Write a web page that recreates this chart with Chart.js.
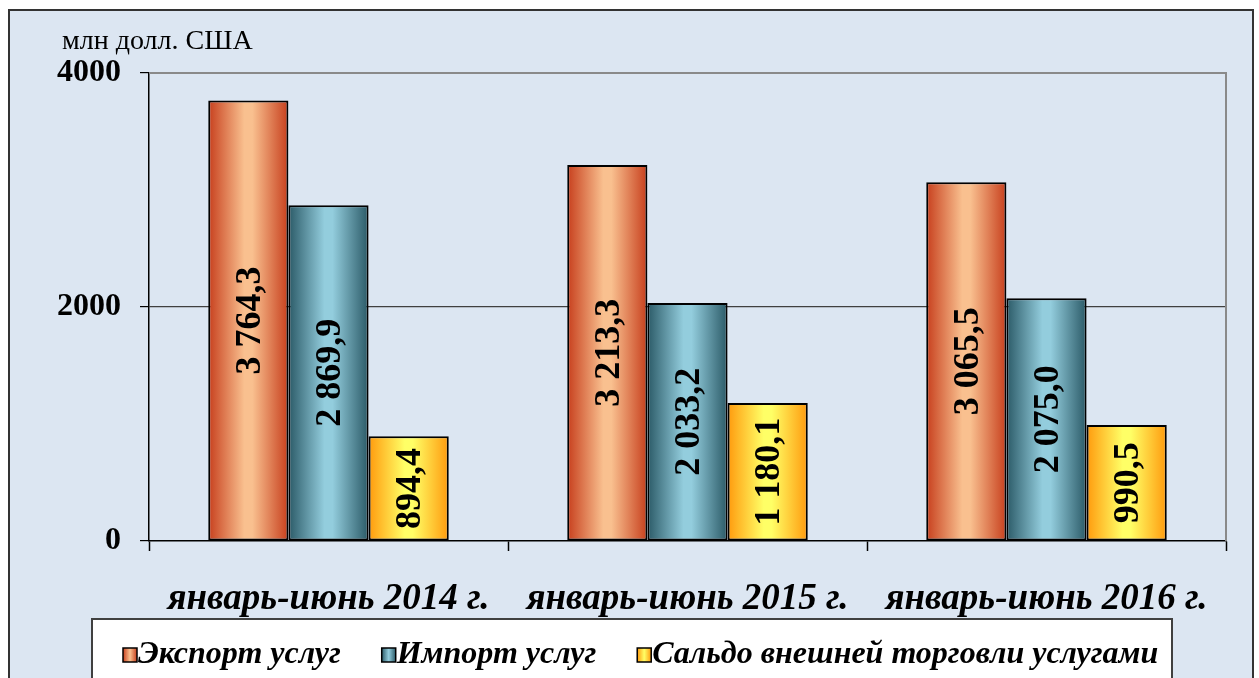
<!DOCTYPE html>
<html>
<head>
<meta charset="utf-8">
<script src="https://cdn.jsdelivr.net/npm/chart.js@4"></script>
<style>
  html, body { margin: 0; padding: 0; background: #ffffff; }
  #wrap { width: 1259px; height: 678px; position: relative; }
</style>
</head>
<body>
<div id="wrap"><canvas id="chart"></canvas></div>
<script>
// Data
var periods = ['январь-июнь 2014 г.', 'январь-июнь 2015 г.', 'январь-июнь 2016 г.'];
var exportVals = [3764.3, 3213.3, 3065.5];
var importVals = [2869.9, 2033.2, 2075.0];
var saldoVals = [894.4, 1180.1, 990.5];
var seriesNames = ['Экспорт услуг', 'Импорт услуг', 'Сальдо внешней торговли услугами'];
var yTicks = [0, 2000, 4000];
var unitLabel = 'млн долл. США';

var serif = '"Liberation Serif", "Times New Roman", serif';

// edge / centre colours of the bar gradients
var barColors = [
    { edge: '#c73f1d', mid: '#f9c08f' },
    { edge: '#2b5a67', mid: '#93cddd' },
    { edge: '#ff9a0d', mid: '#ffff66' }
];

function fmt(v) {
    var s = v.toFixed(1).split('.');
    var intPart = s[0].replace(/\B(?=(\d{3})+(?!\d))/g, ' ');
    return intPart + ',' + s[1];
}

function makeGradient(ctx, left, width, c) {
    var g = ctx.createLinearGradient(left, 0, left + width, 0);
    g.addColorStop(0, c.edge);
    g.addColorStop(0.45, c.mid);
    g.addColorStop(0.55, c.mid);
    g.addColorStop(1, c.edge);
    return g;
}

// Background frame, plot border, unit label, legend box, bar gradients
var framePlugin = {
    id: 'frame',
    beforeDraw: function(chart) {
        var ctx = chart.ctx;
        ctx.save();
        ctx.fillStyle = '#ffffff';
        ctx.fillRect(0, 0, chart.width, chart.height);
        ctx.fillStyle = '#dce6f2';
        ctx.fillRect(9, 10, 1244, 700);
        ctx.strokeStyle = '#333333';
        ctx.lineWidth = 2;
        ctx.strokeRect(9, 10, 1244, 700);
        ctx.restore();
    },
    beforeDatasetsDraw: function(chart) {
        var a = chart.chartArea;
        var ctx = chart.ctx;
        ctx.save();
        ctx.strokeStyle = '#8a8a8a';
        ctx.lineWidth = 2;
        ctx.beginPath();
        ctx.moveTo(a.left, a.top);
        ctx.lineTo(a.right, a.top);
        ctx.lineTo(a.right, a.bottom);
        ctx.stroke();
        ctx.restore();

        chart.data.datasets.forEach(function(ds, di) {
            chart.getDatasetMeta(di).data.forEach(function(el) {
                var left = el.x - el.width / 2;
                if (!isFinite(left) || !isFinite(el.width)) return;
                el.options = Object.assign({}, el.options, {
                    backgroundColor: makeGradient(ctx, left, el.width, barColors[di])
                });
            });
        });
    },
    afterDraw: function(chart) {
        var ctx = chart.ctx;
        ctx.save();
        ctx.fillStyle = '#000000';
        ctx.font = '28px ' + serif;
        ctx.textBaseline = 'middle';
        ctx.textAlign = 'left';
        ctx.fillText(unitLabel, 62, 42);

        // legend
        ctx.fillStyle = '#ffffff';
        ctx.fillRect(92, 619, 1080, 80);
        ctx.strokeStyle = '#404040';
        ctx.lineWidth = 2;
        ctx.strokeRect(92, 619, 1080, 80);
        ctx.font = 'italic bold 32px ' + serif;
        ctx.textBaseline = 'middle';
        var x = 123;
        for (var i = 0; i < seriesNames.length; i++) {
            var c = barColors[i];
            var g = ctx.createLinearGradient(x, 0, x + 14, 0);
            g.addColorStop(0, c.edge);
            g.addColorStop(0.5, c.mid);
            g.addColorStop(1, c.edge);
            ctx.fillStyle = g;
            ctx.fillRect(x, 648, 14, 14);
            ctx.strokeStyle = '#000000';
            ctx.lineWidth = 1.5;
            ctx.strokeRect(x, 648, 14, 14);
            ctx.fillStyle = '#000000';
            ctx.fillText(seriesNames[i], x + 15, 655);
            x += 15 + ctx.measureText(seriesNames[i]).width + 41;
        }
        ctx.restore();
    }
};

// Rotated value labels in the middle of each bar
var valueLabels = {
    id: 'valueLabels',
    afterDatasetsDraw: function(chart) {
        var ctx = chart.ctx;
        ctx.save();
        ctx.fillStyle = '#000000';
        ctx.font = 'bold 36px ' + serif;
        ctx.textAlign = 'center';
        ctx.textBaseline = 'middle';
        chart.data.datasets.forEach(function(ds, di) {
            chart.getDatasetMeta(di).data.forEach(function(el, i) {
                var cy = (el.y + el.base) / 2;
                ctx.save();
                ctx.translate(el.x + 2, cy);
                ctx.rotate(-Math.PI / 2);
                ctx.fillText(fmt(ds.data[i]), 0, 0);
                ctx.restore();
            });
        });
        ctx.restore();
    }
};

var commonDs = { borderColor: '#000000', borderWidth: 2, borderSkipped: false };

new Chart(document.getElementById('chart'), {
    type: 'bar',
    data: {
        labels: periods,
        datasets: [
            Object.assign({ label: seriesNames[0], data: exportVals, backgroundColor: barColors[0].mid }, commonDs),
            Object.assign({ label: seriesNames[1], data: importVals, backgroundColor: barColors[1].mid }, commonDs),
            Object.assign({ label: seriesNames[2], data: saldoVals, backgroundColor: barColors[2].mid }, commonDs)
        ]
    },
    options: {
        responsive: true,
        maintainAspectRatio: false,
        animation: false,
        datasets: { bar: { categoryPercentage: 0.67, barPercentage: 1 } },
        layout: { padding: { top: 73, right: 33, left: 0, bottom: 0 } },
        plugins: { legend: { display: false }, tooltip: { enabled: false } },
        scales: {
            x: {
                afterFit: function(s) { s.height = 137; },
                grid: { offset: true, drawOnChartArea: false, tickLength: 10, tickColor: '#000000', tickWidth: 1.5 },
                border: { color: '#000000', width: 1.5 },
                ticks: { color: '#000000', padding: 26, font: { family: serif, size: 37, style: 'italic', weight: 'bold' } }
            },
            y: {
                min: 0,
                max: 4000,
                afterFit: function(s) { s.width = 149; },
                afterBuildTicks: function(s) { s.ticks = yTicks.map(function(v) { return { value: v }; }); },
                grid: {
                    color: function(c) { return c.tick && c.tick.value === 2000 ? '#404040' : 'rgba(0,0,0,0)'; },
                    tickColor: '#000000',
                    tickLength: 9,
                    lineWidth: 1.2
                },
                border: { color: '#000000', width: 1.5 },
                ticks: {
                    color: '#000000',
                    padding: 19,
                    font: { family: serif, size: 32, weight: 'bold' },
                    callback: function(v) { return String(v); }
                }
            }
        }
    },
    plugins: [framePlugin, valueLabels]
});
</script>
</body>
</html>
